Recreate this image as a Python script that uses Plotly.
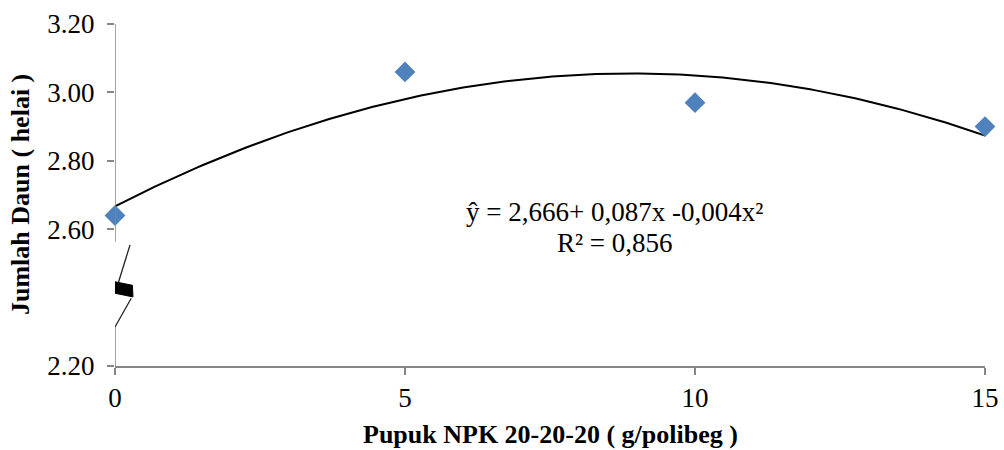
import numpy as np
import plotly.graph_objects as go

# Data
dose = [0, 5, 10, 15]
leaves = [2.64, 3.06, 2.97, 2.90]
y_ticks = [2.20, 2.60, 2.80, 3.00, 3.20]
y_tick_labels = ["2.20", "2.60", "2.80", "3.00", "3.20"]
x_ticks = [0, 5, 10, 15]
x_tick_labels = ["0", "5", "10", "15"]
equation = "ŷ = 2,666+ 0,087x -0,004x²"
r2_text = "R² = 0,856"
x_title = "Pupuk NPK 20-20-20 ( g/polibeg )"
y_title = "Jumlah Daun ( helai )"

FONT = "Times New Roman, Liberation Serif, serif"
AXIS_COLOR = "#868686"

# quadratic trendline (least squares, like the spreadsheet trendline)
coef = np.polyfit(dose, leaves, 2)
xs = np.linspace(0, 15, 200)
ys = np.polyval(coef, xs)

fig = go.Figure()
fig.add_trace(go.Scatter(x=xs, y=ys, mode="lines",
                         line=dict(color="black", width=2),
                         hoverinfo="skip", showlegend=False, cliponaxis=False))
fig.add_trace(go.Scatter(x=dose, y=leaves, mode="markers",
                         marker=dict(symbol="diamond", size=16, color="#4F81BD"),
                         showlegend=False, cliponaxis=False))

# y-axis line with a break (decoration)
brk_top = 2.563
brk_bot = 2.314
shapes = [
    dict(type="line", xref="x", yref="y", x0=0, x1=0, y0=3.2, y1=brk_top,
         line=dict(color=AXIS_COLOR, width=1.5)),
    dict(type="line", xref="x", yref="y", x0=0, x1=0, y0=brk_bot, y1=2.2,
         line=dict(color=AXIS_COLOR, width=1.5)),
    # zigzag
    dict(type="path", xref="x", yref="y",
         path="M 0.259,2.554 L 0.06,2.445 M 0.28,2.398 L 0.0,2.314",
         line=dict(color="#222", width=1.3)),
    dict(type="path", xref="x", yref="y",
         path="M -0.05,2.448 L 0.30,2.436 L 0.31,2.402 L -0.04,2.414 Z",
         fillcolor="black", line=dict(color="black", width=1)),
]

fig.update_layout(
    width=1004, height=450,
    margin=dict(l=115, r=19, t=24, b=84),
    paper_bgcolor="white", plot_bgcolor="white",
    font=dict(family=FONT, size=27, color="black"),
    shapes=shapes,
    xaxis=dict(range=[0, 15], tickvals=x_ticks, ticktext=x_tick_labels,
               showgrid=False, zeroline=False, showline=True, automargin=False,
               linecolor=AXIS_COLOR, linewidth=1.5,
               ticks="outside", ticklen=7, tickcolor=AXIS_COLOR, tickwidth=1.5,
               tickfont=dict(family=FONT, size=27)),
    yaxis=dict(range=[2.2, 3.2], tickvals=y_ticks, ticktext=y_tick_labels,
               showgrid=False, zeroline=False, showline=False, automargin=False,
               ticks="outside", ticklen=7, tickcolor=AXIS_COLOR, tickwidth=1.5,
               ticklabelstandoff=7,
               tickfont=dict(family=FONT, size=27)),
    annotations=[
        dict(text="<b>" + x_title + "</b>", xref="paper", yref="paper",
             x=0.5, y=0, yshift=-68, xanchor="center", yanchor="middle",
             showarrow=False, font=dict(family=FONT, size=26)),
        dict(text="<b>" + y_title + "</b>", xref="paper", yref="paper",
             x=0, xshift=-95, y=0.5, xanchor="center", yanchor="middle",
             textangle=-90, showarrow=False, font=dict(family=FONT, size=26)),
        dict(text=equation, xref="x", yref="y", x=8.62, y=2.650,
             xanchor="center", yanchor="middle", showarrow=False,
             font=dict(family=FONT, size=27)),
        dict(text=r2_text, xref="x", yref="y", x=8.62, y=2.560,
             xanchor="center", yanchor="middle", showarrow=False,
             font=dict(family=FONT, size=27)),
    ],
)

fig.write_html("out.html")
